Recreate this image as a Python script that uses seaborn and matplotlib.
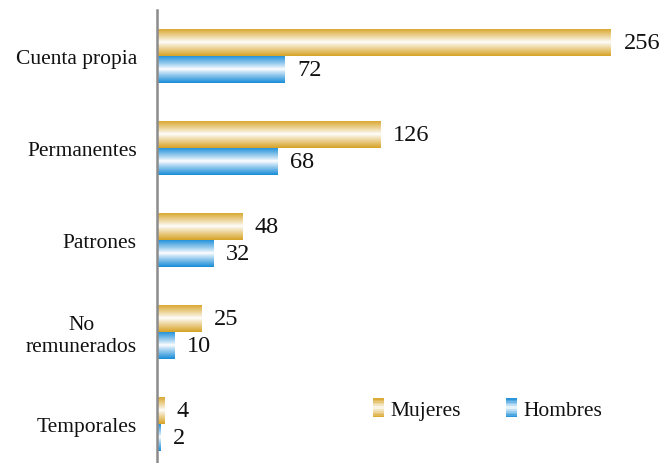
import numpy as np
import pandas as pd
import matplotlib
matplotlib.use("Agg")
import matplotlib.pyplot as plt
import seaborn as sns
from matplotlib.colors import LinearSegmentedColormap, to_rgb
from matplotlib.patches import Rectangle
from matplotlib.legend_handler import HandlerBase

categories = ["Cuenta propia", "Permanentes", "Patrones", "No\nremunerados", "Temporales"]
mujeres = [256, 126, 48, 25, 4]
hombres = [72, 68, 32, 10, 2]
series = ["Mujeres", "Hombres"]
colors = {"Mujeres": "#D8A428", "Hombres": "#1A8DD8"}

df = pd.DataFrame({
    "cat": categories * 2,
    "valor": mujeres + hombres,
    "sexo": ["Mujeres"] * len(categories) + ["Hombres"] * len(categories),
})

sns.set_style("white")
plt.rcParams["font.family"] = ["Liberation Serif", "DejaVu Serif"]

fig = plt.figure(figsize=(6.64, 4.64), dpi=100)
# plot area: left spine at x=157px, category bands ~92px tall
ax = fig.add_axes([157 / 664, -7 / 464, 493 / 664, 460 / 464])

sns.barplot(data=df, y="cat", x="valor", hue="sexo", orient="h", order=categories,
            hue_order=series, palette=colors, width=0.59, ax=ax, legend=False)


def grad_cmap(c):
    return LinearSegmentedColormap.from_list("g", ["white", c])


t = np.linspace(0, 1, 64)
profile = (np.abs(2 * t - 1) ** 0.9).reshape(-1, 1)

for container, name in zip(ax.containers, series):
    cmap = grad_cmap(colors[name])
    for bar in container:
        x, y = bar.get_x(), bar.get_y()
        w, h = bar.get_width(), bar.get_height()
        bar.set_facecolor("none")
        bar.set_edgecolor("none")
        im = ax.imshow(profile, cmap=cmap, vmin=0, vmax=1, aspect="auto",
                       extent=[x, x + w, y + h, y], interpolation="bilinear", zorder=2)
        im.set_clip_path(bar)
    ax.bar_label(container, padding=9, fontsize=17.5, color="#111111")

ax.set_xlim(0, 278)
ax.set_ylim(4.5, -0.5)
ax.set_xlabel("")
ax.set_ylabel("")
ax.set_xticks([])
ax.tick_params(axis="y", length=0, labelsize=15.5, pad=14.5, labelcolor="#111111")
for lbl in ax.get_yticklabels():
    lbl.set_multialignment("center")
for s in ["top", "right", "bottom"]:
    ax.spines[s].set_visible(False)
ax.spines["left"].set_color("#8c8c8c")
ax.spines["left"].set_linewidth(1.8)


class GradHandler(HandlerBase):
    def create_artists(self, legend, orig_handle, xdescent, ydescent, width, height, fontsize, trans):
        c = np.array(to_rgb(orig_handle.get_facecolor()))
        n = 12
        hw = 8
        hh = 14
        x0 = xdescent + width - hw
        y0 = -ydescent + (height - hh) / 2
        arts = []
        for i in range(n):
            f = abs(2 * (i + 0.5) / n - 1) ** 0.9
            col = (1 - f) * np.ones(3) + f * c
            r = Rectangle((x0, y0 + i * hh / n), hw, hh / n, facecolor=col,
                          edgecolor="none", transform=trans)
            arts.append(r)
        return arts


handles = [Rectangle((0, 0), 1, 1, facecolor=colors[s]) for s in series]
leg = ax.legend(handles, series, handler_map={Rectangle: GradHandler()}, ncol=2,
                frameon=False, fontsize=15.5, loc="center left", bbox_to_anchor=(0.39, 0.13),
                handlelength=0.7, handletextpad=0.3, columnspacing=1.9)
for txt in leg.get_texts():
    txt.set_color("#111111")

fig.savefig("out.png", dpi=100)
